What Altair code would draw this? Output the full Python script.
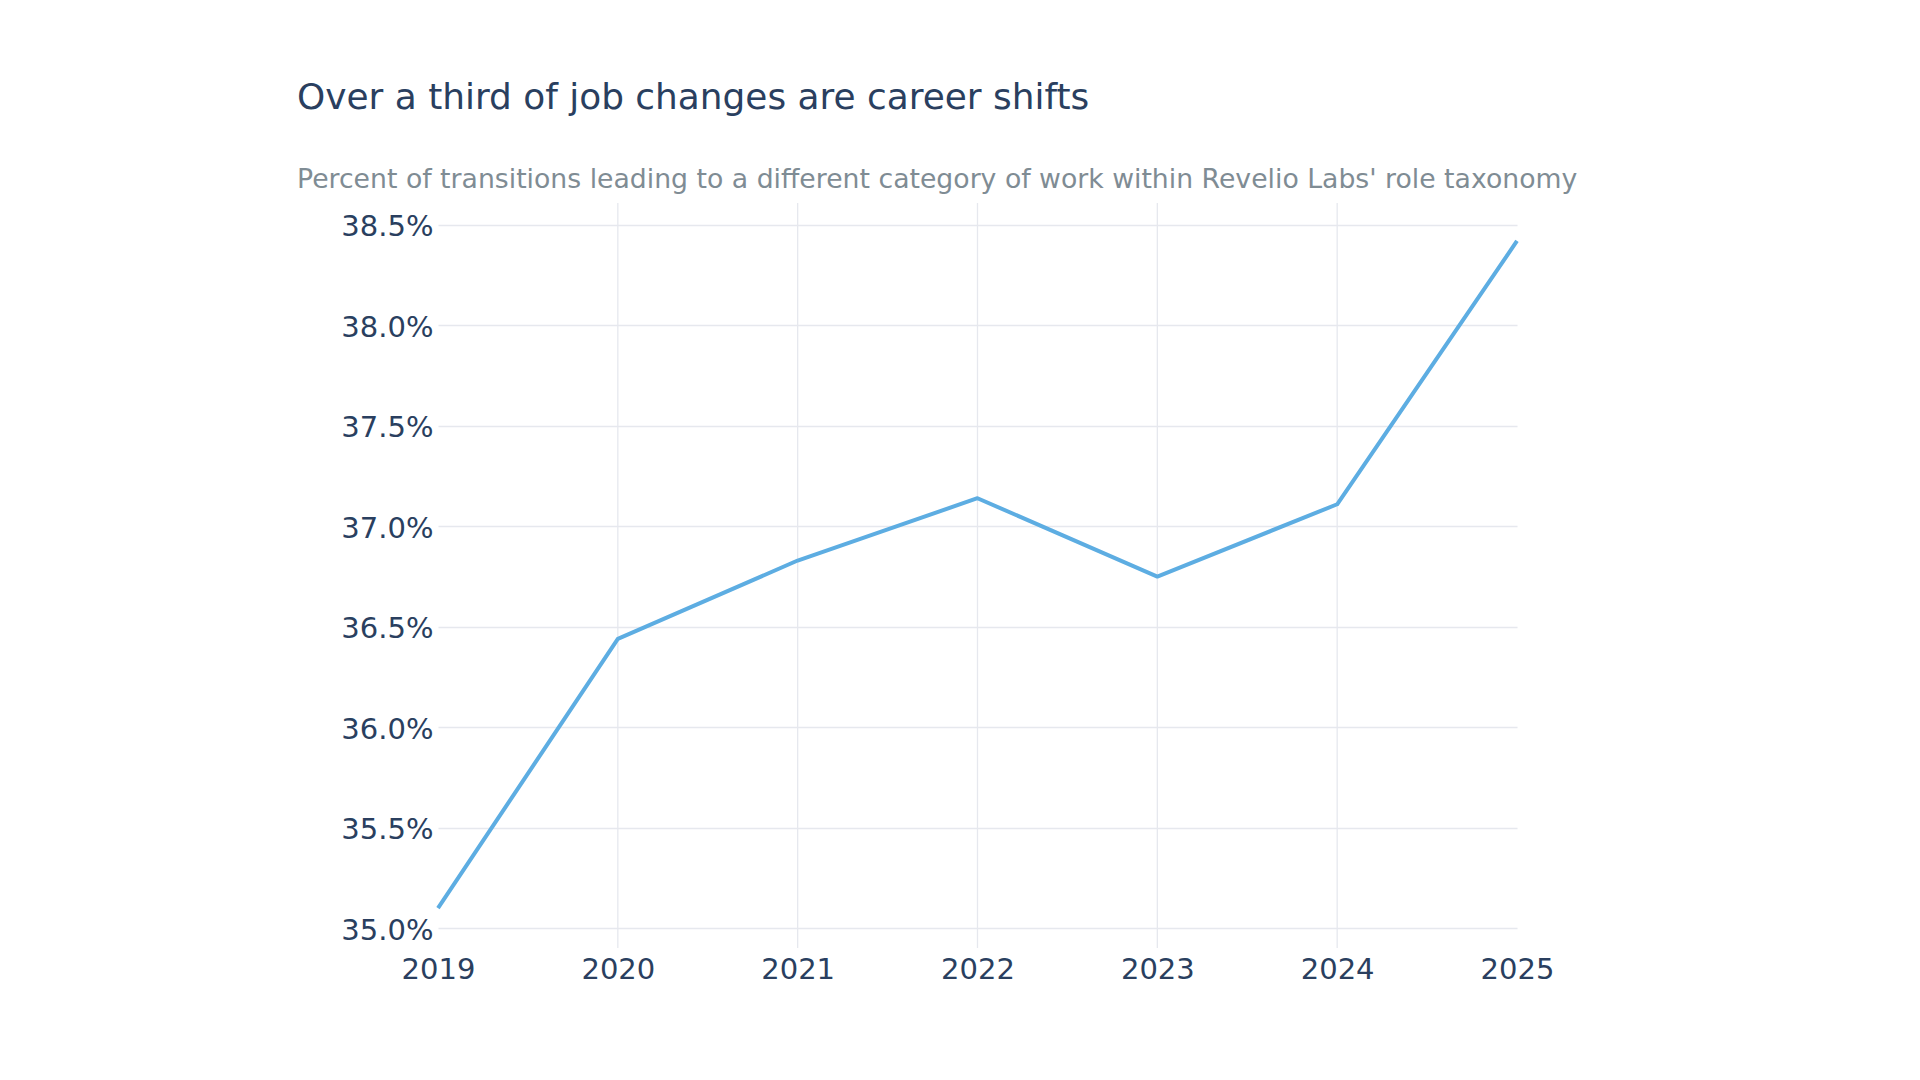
import altair as alt
import pandas as pd

# Share of job transitions that move into a different role category (%)
years = [2019, 2020, 2021, 2022, 2023, 2024, 2025]
career_shift_pct = [35.10, 36.44, 36.83, 37.14, 36.75, 37.11, 38.42]

# Interior year gridlines (the outer edges carry no gridline)
grid_years = [2020, 2021, 2022, 2023, 2024]
y_ticks = [35.0, 35.5, 36.0, 36.5, 37.0, 37.5, 38.0, 38.5]

TITLE = "Over a third of job changes are career shifts"
SUBTITLE = ("Percent of transitions leading to a different category of work "
            "within Revelio Labs' role taxonomy")

FONT = "DejaVu Sans"
INK = "#2a3f5f"
GRID = "#e6e8ee"
LINE = "#5dade2"

PLOT_W, PLOT_H = 1079, 745

df = pd.DataFrame({"year": years, "pct": career_shift_pct})
grid_df = pd.DataFrame({"year": grid_years})

x_scale = alt.Scale(domain=[2019, 2025], nice=False, zero=False)
y_scale = alt.Scale(domain=[34.902, 38.609], nice=False, zero=False)

x_axis = alt.Axis(
    values=years,
    format="d",
    grid=False,
    domain=False,
    ticks=False,
    labelFont=FONT,
    labelFontSize=29,
    labelColor=INK,
    labelPadding=7,
    labelFlush=False,
)

y_axis = alt.Axis(
    values=y_ticks,
    labelExpr="format(datum.value, '.1f') + '%'",
    grid=True,
    gridColor=GRID,
    gridWidth=1.3,
    domain=False,
    ticks=False,
    labelFont=FONT,
    labelFontSize=29,
    labelColor=INK,
    labelPadding=5,
    labelOffset=2,
    labelFlush=False,
)

vgrid = (
    alt.Chart(grid_df)
    .mark_rule(color=GRID, strokeWidth=1.3)
    .encode(
        x=alt.X("year:Q", scale=x_scale, title=None, axis=x_axis),
        y=alt.value(0),
        y2=alt.value(PLOT_H),
    )
)

line = (
    alt.Chart(df)
    .mark_line(color=LINE, strokeWidth=4, strokeJoin="round")
    .encode(
        x=alt.X("year:Q", scale=x_scale, title=None, axis=x_axis),
        y=alt.Y("pct:Q", scale=y_scale, title=None, axis=y_axis),
    )
)

chart = (
    alt.layer(vgrid, line)
    .properties(
        width=PLOT_W,
        height=PLOT_H,
        background="white",
        title=alt.TitleParams(
            text=TITLE,
            subtitle=SUBTITLE,
            anchor="start",
            frame="group",
            orient="top",
            dx=-141,
            offset=8,
            font=FONT,
            fontSize=35.9,
            fontWeight="normal",
            color=INK,
            subtitleFont=FONT,
            subtitleFontSize=26.7,
            subtitleColor="#7f8c94",
            subtitlePadding=49.5,
        ),
        autosize=alt.AutoSizeParams(type="none"),
        padding={"left": 438, "top": 203, "right": 403, "bottom": 132},
    )
    .configure_view(strokeWidth=0, stroke=None)
)

chart.save("out.html", embed_options={"renderer": "svg", "actions": False})
